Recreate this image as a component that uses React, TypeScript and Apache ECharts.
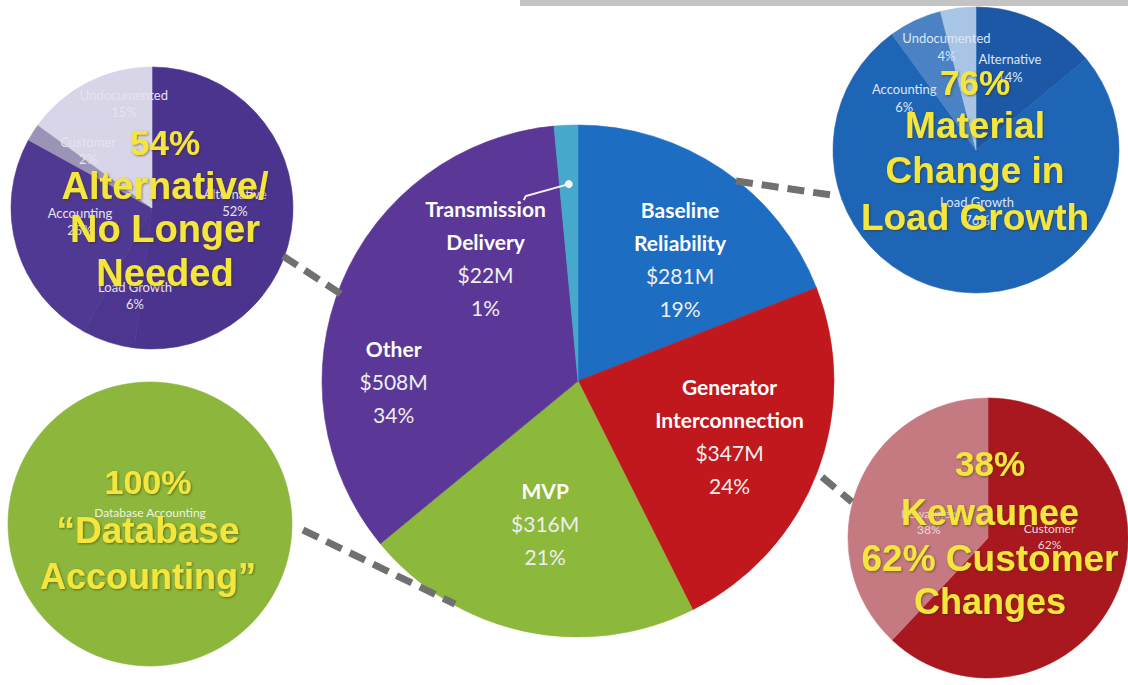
import React, { useEffect, useRef } from "react";
import * as echarts from "echarts";

// ---- Data ----
const mainCategories = ["Baseline Reliability", "Generator Interconnection", "MVP", "Other", "Transmission Delivery"];
const mainValues = [281, 347, 316, 508, 22]; // $M

const otherCategories = ["Alternative", "Load Growth", "Accounting", "Customer", "Undocumented"];
const otherValues = [52, 6, 25, 2, 15]; // %

const baselineCategories = ["Alternative", "Load Growth", "Accounting", "Undocumented"];
const baselineValues = [14, 76, 6, 4]; // %

const generatorCategories = ["Customer", "Kewaunee"];
const generatorValues = [62, 38]; // %

const mvpCategories = ["Database Accounting"];
const mvpValues = [100]; // %

const otherHeadline = ["54%", "Alternative/", "No Longer", "Needed"];
const baselineHeadline = ["76%", "Material", "Change in", "Load Growth"];
const generatorHeadline = ["38%", "Kewaunee", "62% Customer", "Changes"];
const mvpHeadline = ["100%", "\u201CDatabase", "Accounting\u201D"];

// ---- Styles / layout ----
const mainColors = ["#1D6DC3", "#C0181D", "#8CB83B", "#5B3897", "#46A8CB"];
const otherColors = ["#4A348E", "#4C3690", "#4F3993", "#9B94B7", "#D9D5E8"];
const baselineColors = ["#1C58A6", "#1F65B5", "#4A82C4", "#A9C5E6"];
const generatorColors = ["#A8181E", "#C47A80"];
const mvpColors = ["#8CB63C"];

const YELLOW = "#F4E63E";

function polar(c: number[], r: number, deg: number) {
  const a = (deg * Math.PI) / 180;
  return [c[0] + r * Math.sin(a), c[1] - r * Math.cos(a)];
}

function pieSeries(
  cats: string[],
  vals: number[],
  colors: string[],
  center: number[],
  radius: number,
  labelPos: number[][],
  label: any
) {
  return {
    type: "pie",
    center,
    radius,
    startAngle: 90,
    clockwise: true,
    silent: true,
    avoidLabelOverlap: false,
    emphasis: { disabled: true },
    data: cats.map((c, i) => ({
      name: c,
      value: vals[i],
      itemStyle: { color: colors[i], borderColor: colors[i], borderWidth: 0.6 },
    })),
    label: { show: true, position: "inside", align: "center", ...label },
    labelLine: { show: false },
    labelLayout: (p: any) => {
      const [ang, f] = labelPos[p.dataIndex];
      const [x, y] = polar(center, radius * f, ang);
      return { x, y, align: "center", verticalAlign: "middle" };
    },
  };
}

function headlineTexts(lines: string[], x: number, ys: number[], sizes: number[]) {
  return lines.map((t, i) => ({
    type: "text",
    z: 100,
    silent: true,
    style: {
      text: t,
      x,
      y: ys[i],
      fill: YELLOW,
      fontSize: sizes[i],
      fontWeight: "bold",
      fontFamily: '"Liberation Sans", Arial, sans-serif',
      align: "center",
      verticalAlign: "middle",
      textShadowColor: "rgba(60,50,0,0.55)",
      textShadowBlur: 2,
      textShadowOffsetX: 1,
      textShadowOffsetY: 1,
    },
  }));
}

export default function App() {
  const ref = useRef<HTMLDivElement>(null);

  useEffect(() => {
    if (!ref.current) return;
    const chart = echarts.init(ref.current, undefined, { renderer: "svg" });

    const mainTotal = mainValues.reduce((a, b) => a + b, 0);
    const mainCenter = [578, 381];
    const mainR = 256;

    const smallFont = { fontFamily: "Lato, 'Open Sans', sans-serif" };

    const mainSeries = pieSeries(
      mainCategories,
      mainValues,
      mainColors,
      mainCenter,
      mainR,
      [
        [40, 0.62],
        [110, 0.63],
        [193, 0.57],
        [270, 0.72],
        [323, 0.6],
      ],
      {
        formatter: (p: any) => {
          const nameLines = String(p.name)
            .replace(" ", "\n")
            .split("\n")
            .map((s: string) => `{n|${s}}`)
            .join("\n");
          const pct = Math.round((p.value / mainTotal) * 100);
          return `${nameLines}\n{v|$${p.value}M}\n{v|${pct}%}`;
        },
        rich: {
          n: { fontFamily: "Lato, sans-serif", fontWeight: "bold", fontSize: 21, color: "#ffffff", lineHeight: 33, align: "center" },
          v: { fontFamily: "Lato, sans-serif", fontSize: 21, color: "#eeeeee", lineHeight: 33, align: "center" },
        },
      }
    );

    const smallFormatter = (p: any) => `${p.name}\n${p.value}%`;

    const otherSeries = pieSeries(
      otherCategories,
      otherValues,
      otherColors,
      [152, 208],
      141,
      [
        [86.5, 0.59],
        [191, 0.63],
        [259, 0.52],
        [312, 0.61],
        [345, 0.77],
      ],
      { formatter: smallFormatter, ...smallFont, fontSize: 13, lineHeight: 17, color: "#E6E3EF" }
    );

    const baselineSeries = pieSeries(
      baselineCategories,
      baselineValues,
      baselineColors,
      [976, 150],
      143,
      [
        [22.5, 0.62],
        [179, 0.43],
        [306, 0.62],
        [344, 0.75],
      ],
      { formatter: smallFormatter, ...smallFont, fontSize: 13, lineHeight: 18, color: "#DCE6F4" }
    );

    const generatorSeries = pieSeries(
      generatorCategories,
      generatorValues,
      generatorColors,
      [988, 538],
      140,
      [
        [89, 0.44],
        [286, 0.44],
      ],
      { formatter: smallFormatter, ...smallFont, fontSize: 12, lineHeight: 16, color: "#E8DADC" }
    );

    const mvpSeries = pieSeries(
      mvpCategories,
      mvpValues,
      mvpColors,
      [150, 524],
      142,
      [[0, 0.08]],
      { formatter: (p: any) => `${p.name}`, ...smallFont, fontSize: 12, color: "#EEF3E2" }
    );

    // Transmission Delivery leader line, anchored on its slice
    const before = mainValues.slice(0, 4).reduce((a, b) => a + b, 0);
    const midDeg = ((before + mainValues[4] / 2) / mainTotal) * 360;
    const dot = polar(mainCenter, mainR * 0.77, midDeg);
    const leaderEnd = [dot[0] - 43, dot[1] + 12];

    const connectors = [
      [[283, 256], [347, 298]],
      [[736, 181], [838, 196]],
      [[822, 477], [852, 502]],
      [[303, 530], [455, 604]],
    ];

    const graphics: any[] = [
      {
        type: "rect",
        z: 1,
        silent: true,
        shape: { x: 520, y: 0, width: 608, height: 6 },
        style: { fill: "#C4C4C4" },
      },
      ...connectors.map((c) => ({
        type: "line",
        z: 90,
        silent: true,
        shape: { x1: c[0][0], y1: c[0][1], x2: c[1][0], y2: c[1][1] },
        style: { stroke: "#707070", lineWidth: 7, lineDash: [17, 9] },
      })),
      {
        type: "polyline",
        z: 95,
        silent: true,
        shape: { points: [dot, leaderEnd, [leaderEnd[0] - 2, leaderEnd[1] + 4]] },
        style: { stroke: "#F4F4F4", lineWidth: 2, fill: null },
      },
      {
        type: "circle",
        z: 96,
        silent: true,
        shape: { cx: dot[0], cy: dot[1], r: 4 },
        style: { fill: "#F4F4F4" },
      },
      ...headlineTexts(otherHeadline, 165, [142, 186, 229, 273], [35, 38, 38, 38]),
      ...headlineTexts(baselineHeadline, 975, [82, 125, 170, 217], [35, 37, 37, 37]),
      ...headlineTexts(generatorHeadline, 990, [463, 512, 558, 601], [35, 36, 37, 36]),
      ...headlineTexts(mvpHeadline, 148, [482, 530, 576], [34, 37, 36]),
    ];

    chart.setOption({
      animation: false,
      backgroundColor: "#ffffff",
      series: [mainSeries, otherSeries, baselineSeries, generatorSeries, mvpSeries],
      graphic: { elements: graphics },
    });

    return () => chart.dispose();
  }, []);

  return (
    <div
      ref={ref}
      style={{ position: "absolute", left: 0, top: 0, width: 1128, height: 685 }}
    />
  );
}
